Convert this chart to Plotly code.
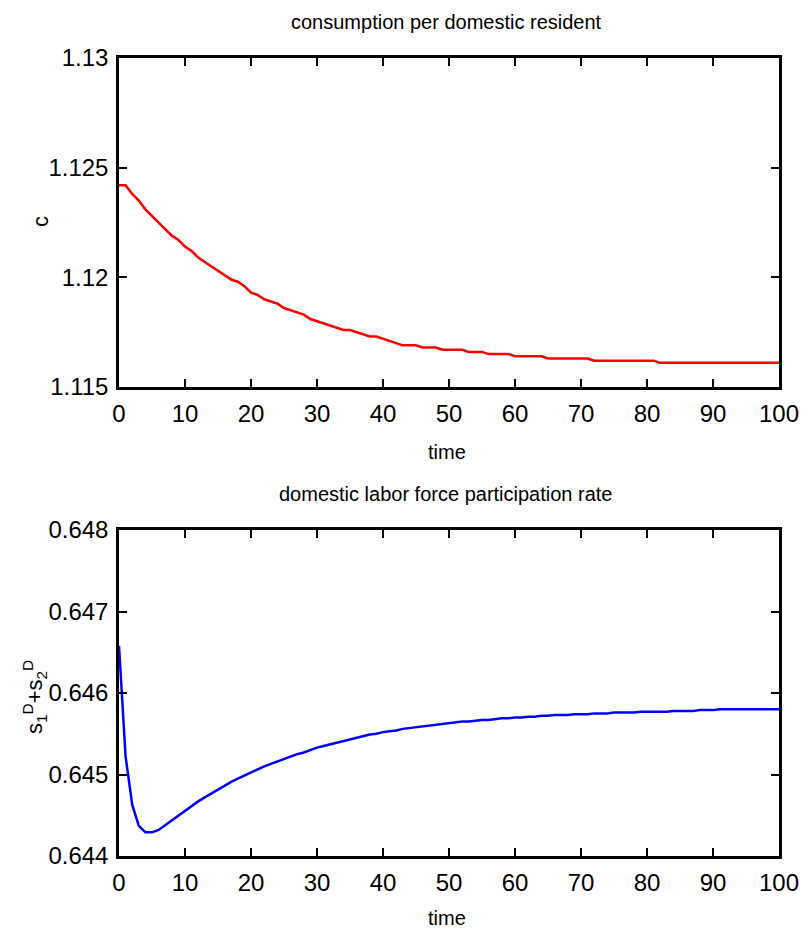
import plotly.graph_objects as go

time = list(range(0, 101))

consumption = [
    1.1242, 1.1242, 1.1238, 1.1235, 1.1231, 1.1228, 1.1225, 1.1222, 1.1219, 1.1217,
    1.1214, 1.1212, 1.1209, 1.1207, 1.1205, 1.1203, 1.1201, 1.1199, 1.1198, 1.1196,
    1.1193, 1.1192, 1.1190, 1.1189, 1.1188, 1.1186, 1.1185, 1.1184, 1.1183, 1.1181,
    1.1180, 1.1179, 1.1178, 1.1177, 1.1176, 1.1176, 1.1175, 1.1174, 1.1173, 1.1173,
    1.1172, 1.1171, 1.1170, 1.1169, 1.1169, 1.1169, 1.1168, 1.1168, 1.1168, 1.1167,
    1.1167, 1.1167, 1.1167, 1.1166, 1.1166, 1.1166, 1.1165, 1.1165, 1.1165, 1.1165,
    1.1164, 1.1164, 1.1164, 1.1164, 1.1164, 1.1163, 1.1163, 1.1163, 1.1163, 1.1163,
    1.1163, 1.1163, 1.1162, 1.1162, 1.1162, 1.1162, 1.1162, 1.1162, 1.1162, 1.1162,
    1.1162, 1.1162, 1.1161, 1.1161, 1.1161, 1.1161, 1.1161, 1.1161, 1.1161, 1.1161,
    1.1161, 1.1161, 1.1161, 1.1161, 1.1161, 1.1161, 1.1161, 1.1161, 1.1161, 1.1161,
    1.1161,
]

participation = [
    0.64658, 0.64522, 0.64463, 0.64437, 0.64429, 0.64429, 0.64432, 0.64438, 0.64444, 0.64450,
    0.64456, 0.64461, 0.64467, 0.64472, 0.64477, 0.64482, 0.64487, 0.64491, 0.64495, 0.64499,
    0.64503, 0.64507, 0.64510, 0.64513, 0.64516, 0.64519, 0.64522, 0.64525, 0.64527, 0.64530,
    0.64533, 0.64535, 0.64537, 0.64539, 0.64541, 0.64543, 0.64545, 0.64547, 0.64549, 0.64550,
    0.64552, 0.64553, 0.64554, 0.64556, 0.64557, 0.64558, 0.64559, 0.64560, 0.64561, 0.64562,
    0.64563, 0.64564, 0.64565, 0.64565, 0.64566, 0.64567, 0.64567, 0.64568, 0.64569, 0.64569,
    0.64570, 0.64570, 0.64571, 0.64571, 0.64572, 0.64572, 0.64573, 0.64573, 0.64573, 0.64574,
    0.64574, 0.64574, 0.64575, 0.64575, 0.64575, 0.64576, 0.64576, 0.64576, 0.64576, 0.64577,
    0.64577, 0.64577, 0.64577, 0.64577, 0.64578, 0.64578, 0.64578, 0.64578, 0.64579, 0.64579,
    0.64579, 0.64580, 0.64580, 0.64580, 0.64580, 0.64580, 0.64580, 0.64580, 0.64580, 0.64580,
    0.64580,
]

x_ticks = [0, 10, 20, 30, 40, 50, 60, 70, 80, 90, 100]
c_ticks = [1.115, 1.12, 1.125, 1.13]
c_tick_text = ["1.115", "1.12", "1.125", "1.13"]
s_ticks = [0.644, 0.645, 0.646, 0.647, 0.648]
s_tick_text = ["0.644", "0.645", "0.646", "0.647", "0.648"]

title_top = "consumption per domestic resident"
title_bottom = "domestic labor force participation rate"
xlabel = "time"
ylabel_top = "c"
ylabel_bottom = "s<sub>1</sub><sup>D</sup>+s<sub>2</sub><sup>D</sup>"

W, H = 801, 938
L, R, T, B = 119, 22, 58, 82
plot_h = H - T - B


def py(pix):
    return (H - B - pix) / plot_h


def px(pix):
    return (pix - L) / (W - L - R)


tick_font = dict(family="Liberation Sans", size=24, color="black")
label_font = dict(family="Liberation Sans", size=20, color="black")

fig = go.Figure()
fig.add_trace(go.Scatter(x=time, y=consumption, mode="lines",
                         line=dict(color="#ff0000", width=2.5), xaxis="x", yaxis="y",
                         showlegend=False))
fig.add_trace(go.Scatter(x=time, y=participation, mode="lines",
                         line=dict(color="#0000ff", width=2.5), xaxis="x2", yaxis="y2",
                         showlegend=False))

axis_common = dict(showgrid=False, zeroline=False, showline=True, linecolor="black",
                   linewidth=2.5, mirror="ticks", ticks="inside", ticklen=8, tickwidth=1.5,
                   tickcolor="black", tickfont=tick_font, automargin=False)

top_dom = [py(387), 1.0]
bot_dom = [0.0, py(530)]

fig.update_layout(
    width=W, height=H,
    margin=dict(l=L, r=R, t=T, b=B, autoexpand=False),
    paper_bgcolor="white", plot_bgcolor="white",
    xaxis=dict(range=[0, 100], tickvals=x_ticks, domain=[0, 1], anchor="y",
               ticklabelstandoff=3, **axis_common),
    yaxis=dict(range=[1.115, 1.13], tickvals=c_ticks, ticktext=c_tick_text, domain=top_dom,
               anchor="x", ticklabelstandoff=3, **axis_common),
    xaxis2=dict(range=[0, 100], tickvals=x_ticks, domain=[0, 1], anchor="y2",
                ticklabelstandoff=3, **axis_common),
    yaxis2=dict(range=[0.644, 0.648], tickvals=s_ticks, ticktext=s_tick_text, domain=bot_dom,
                anchor="x2", ticklabelstandoff=3, **axis_common),
)

annotations = [
    dict(text=title_top, x=px(446), y=py(22), font=label_font),
    dict(text=title_bottom, x=px(446), y=py(494), font=label_font),
    dict(text=xlabel, x=px(447), y=py(452), font=label_font),
    dict(text=xlabel, x=px(447), y=py(918), font=label_font),
    dict(text=ylabel_top, x=px(40), y=py(222), textangle=-90,
         font=dict(family="Liberation Sans", size=22, color="black")),
    dict(text=ylabel_bottom, x=px(34), y=py(697), textangle=-90,
         font=dict(family="Liberation Sans", size=22, color="black")),
]
for a in annotations:
    a.update(xref="paper", yref="paper", showarrow=False, xanchor="center", yanchor="middle")
fig.update_layout(annotations=annotations)

fig.write_html("out.html", config={"displayModeBar": False},
               post_script="document.body.style.margin='0';document.body.style.padding='0';")
